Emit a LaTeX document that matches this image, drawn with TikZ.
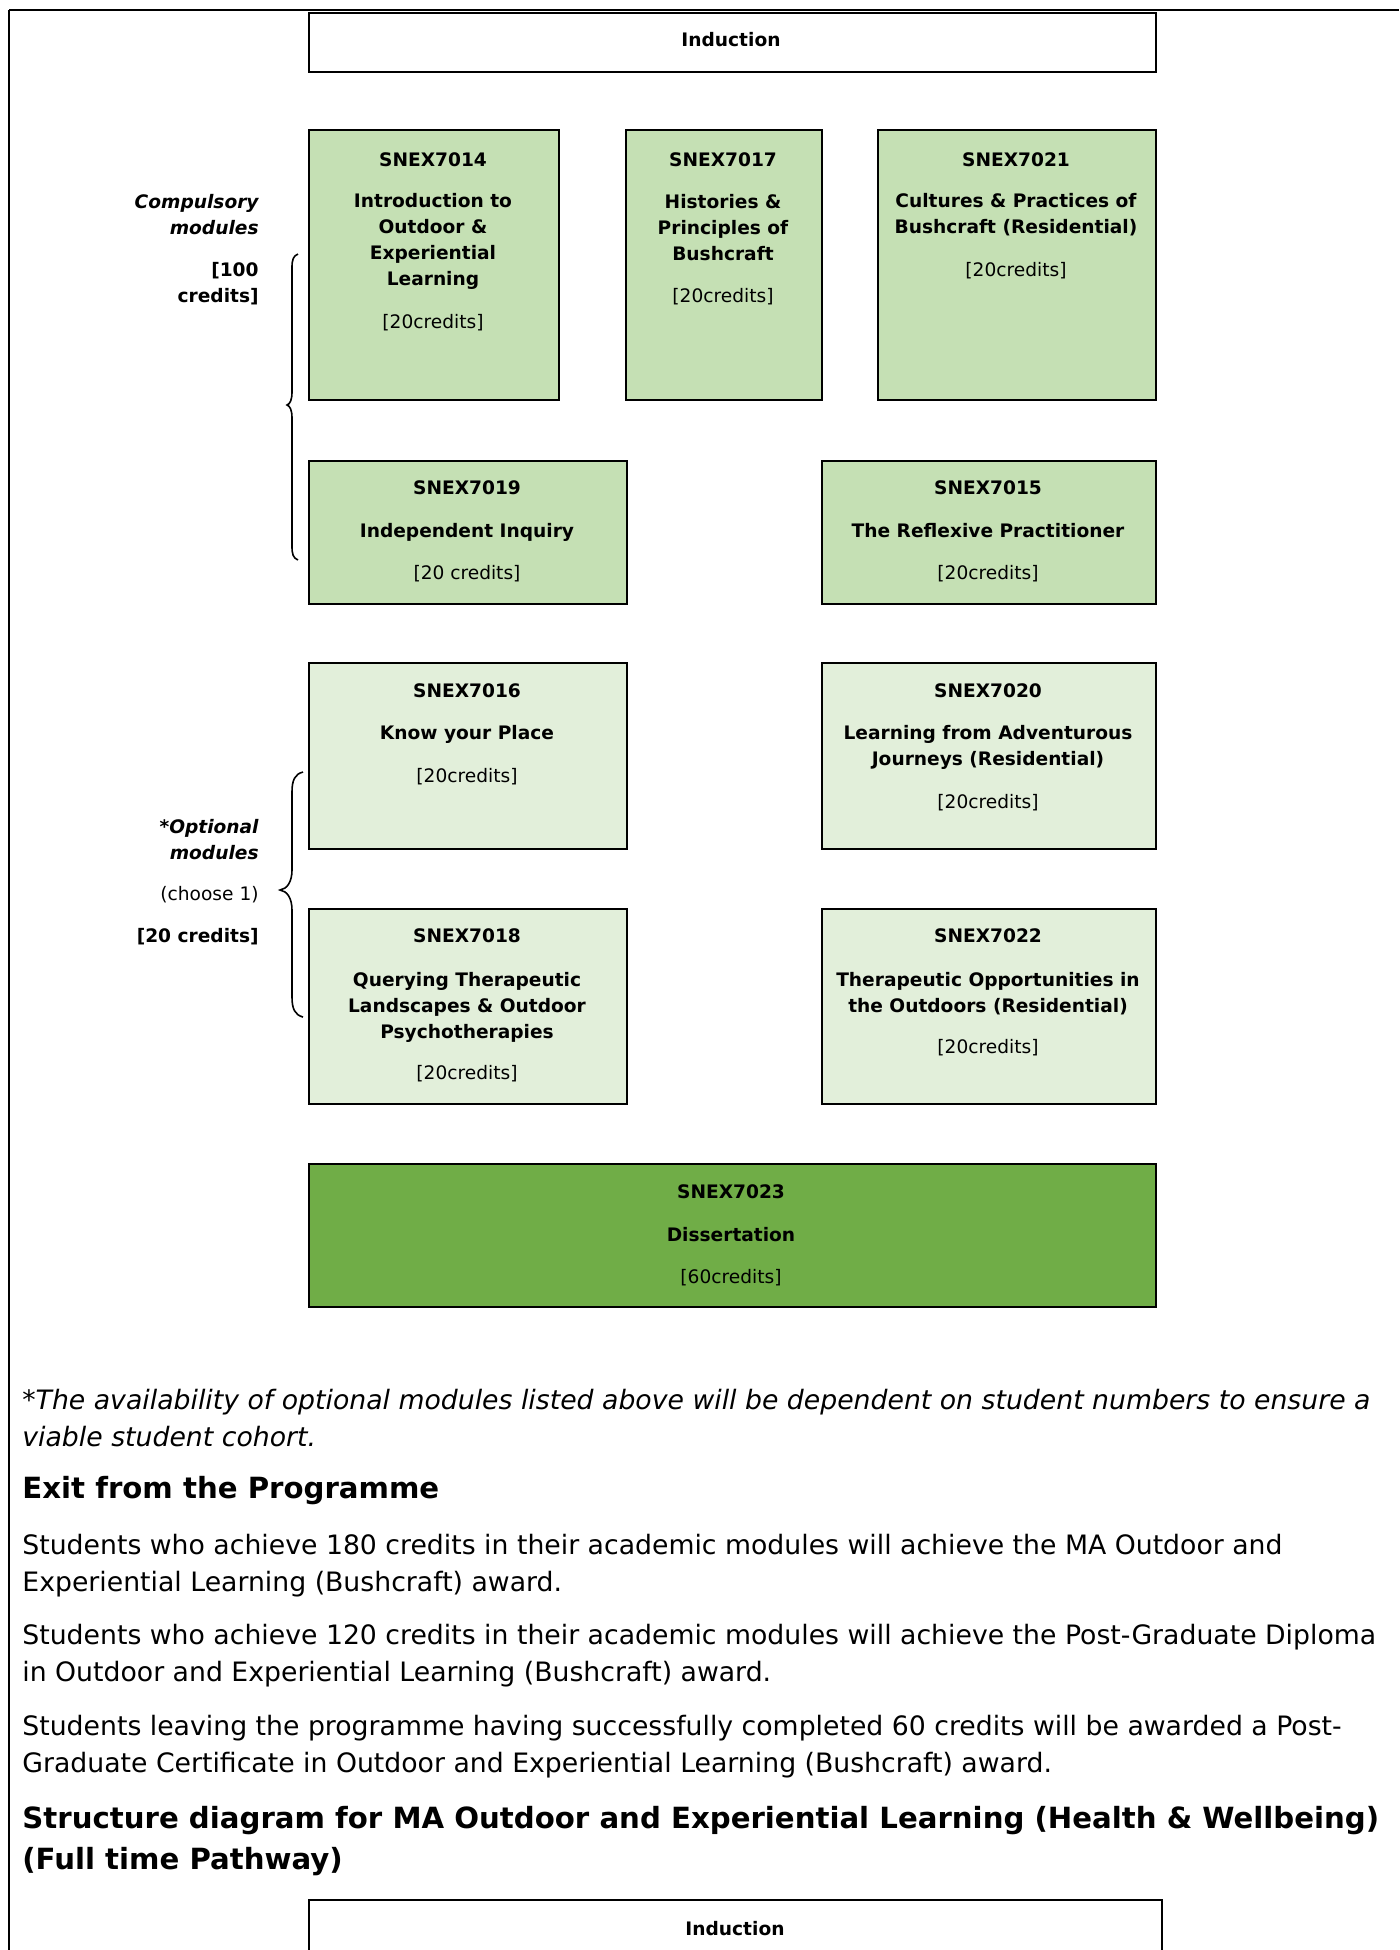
\documentclass[tikz,border=0pt]{standalone}
\usepackage{fontspec}
\setmainfont{DejaVu Sans}
\definecolor{cdark}{HTML}{C5E0B4}
\definecolor{clight}{HTML}{E2EFDA}
\definecolor{cdiss}{HTML}{70AD47}
\newcommand\bxf{\fontsize{9.3pt}{13pt}\selectfont}
\newcommand\bdf{\fontsize{13.35pt}{18.5pt}\selectfont}
\newcommand\hdf{\fontsize{14.6pt}{20.5pt}\selectfont}
\tikzset{
  frame/.style={draw=black, line width=1.2pt, inner sep=0pt, anchor=north west},
  dark/.style={frame, fill=cdark},
  light/.style={frame, fill=clight},
  diss/.style={frame, fill=cdiss},
  plain/.style={frame, fill=white},
  one/.style={inner sep=0pt, text height=0.73em, text depth=0pt},
  code/.style={one, font=\bxf\bfseries},
  cred/.style={one, font=\bxf},
  ttl/.style={inner sep=0pt, font=\bxf\bfseries, align=center},
  lbl/.style={inner sep=0pt, font=\bxf, align=right, anchor=east},
  body/.style={inner sep=0pt, font=\bdf, align=left, anchor=west},
  head/.style={inner sep=0pt, font=\hdf\bfseries, align=left, anchor=west},
  bracel/.style={draw=black, line width=0.8pt},
}
\begin{document}
\begin{tikzpicture}[x=0.5pt, y=-0.5pt]
\useasboundingbox (0,0) rectangle (1399,1950);
\fill[white] (0,0) rectangle (1399,1950);
% page frame
\draw[line width=1pt] (9,10) -- (1399,10);
\draw[line width=0.6pt] (9,10) -- (9,1950);

% Induction
\node[plain, minimum width=423.5pt, minimum height=29.5pt] (ind) at (308,12) {};
\node[code] (indt) at (731,39) {Induction};

% Row 1
\node[dark, minimum width=125pt, minimum height=135pt] (m7014) at (308,129) {};
\node[code] (m7014c) at (433,159) {SNEX7014};
\node[ttl] (m7014t) at (433,241) {Introduction to\\Outdoor \&\\Experiential\\Learning};
\node[cred] (m7014r) at (433,321) {[20credits]};

\node[dark, minimum width=98pt, minimum height=135pt] (m7017) at (625,129) {};
\node[code] (m7017c) at (723,159) {SNEX7017};
\node[ttl] (m7017t) at (723,228) {Histories \&\\Principles of\\Bushcraft};
\node[cred] (m7017r) at (723,295) {[20credits]};

\node[dark, minimum width=139pt, minimum height=135pt] (m7021) at (877,129) {};
\node[code] (m7021c) at (1016,159) {SNEX7021};
\node[ttl] (m7021t) at (1016,215) {Cultures \& Practices of\\Bushcraft (Residential)};
\node[cred] (m7021r) at (1016,269) {[20credits]};

% Row 2
\node[dark, minimum width=159pt, minimum height=71.5pt] (m7019) at (308,460) {};
\node[code] (m7019c) at (467,487) {SNEX7019};
\node[code] (m7019t) at (467,530) {Independent Inquiry};
\node[cred] (m7019r) at (467,572) {[20 credits]};

\node[dark, minimum width=167pt, minimum height=71.5pt] (m7015) at (821,460) {};
\node[code] (m7015c) at (988,487) {SNEX7015};
\node[code] (m7015t) at (988,530) {The Reflexive Practitioner};
\node[cred] (m7015r) at (988,572) {[20credits]};

% Row 3
\node[light, minimum width=159pt, minimum height=93pt] (m7016) at (308,662) {};
\node[code] (m7016c) at (467,690) {SNEX7016};
\node[code] (m7016t) at (467,732) {Know your Place};
\node[cred] (m7016r) at (467,775) {[20credits]};

\node[light, minimum width=167pt, minimum height=93pt] (m7020) at (821,662) {};
\node[code] (m7020c) at (988,690) {SNEX7020};
\node[ttl] (m7020t) at (988,747) {Learning from Adventurous\\Journeys (Residential)};
\node[cred] (m7020r) at (988,801) {[20credits]};

% Row 4
\node[light, minimum width=159pt, minimum height=97.5pt] (m7018) at (308,908) {};
\node[code] (m7018c) at (467,935) {SNEX7018};
\node[ttl] (m7018t) at (467,1007) {Querying Therapeutic\\Landscapes \& Outdoor\\Psychotherapies};
\node[cred] (m7018r) at (467,1072) {[20credits]};

\node[light, minimum width=167pt, minimum height=97.5pt] (m7022) at (821,908) {};
\node[code] (m7022c) at (988,935) {SNEX7022};
\node[ttl] (m7022t) at (988,994) {Therapeutic Opportunities in\\the Outdoors (Residential)};
\node[cred] (m7022r) at (988,1046) {[20credits]};

% Dissertation
\node[diss, minimum width=423.5pt, minimum height=71.5pt] (m7023) at (308,1163) {};
\node[code] (m7023c) at (731,1191) {SNEX7023};
\node[code] (m7023t) at (731,1234) {Dissertation};
\node[cred] (m7023r) at (731,1276) {[60credits]};

% Left labels
\node[lbl, font=\bxf\bfseries\itshape] (lcomp) at (259,215) {Compulsory\\modules};
\node[lbl, font=\bxf\bfseries] (lcred) at (259,284) {[100\\credits]};
\node[lbl, font=\bxf\bfseries\itshape] (lopt) at (259,840) {*Optional\\modules};
\node[lbl, one, anchor=east] (lcho) at (259,893) {(choose 1)};
\node[lbl, one, anchor=east, font=\bxf\bfseries] (lcr2) at (259,935) {[20 credits]};

% Braces
\draw[bracel] (298,254) .. controls (293,256) and (292,260) .. (292,268) -- (292,392)
  .. controls (292,400) and (290,404) .. (287,405)
  .. controls (290,406) and (292,410) .. (292,418) -- (292,546)
  .. controls (292,554) and (293,558) .. (298,560);
\draw[bracel] (303,772) .. controls (295,774) and (292,780) .. (292,792) -- (292,870)
  .. controls (292,882) and (287,889) .. (280,890)
  .. controls (287,891) and (292,898) .. (292,910) -- (292,997)
  .. controls (292,1009) and (295,1015) .. (303,1017);

% Body text
\node[body, font=\bdf\itshape] (foot) at (22,1418) {*The availability of optional modules listed above will be dependent on student numbers to ensure a\\viable student cohort.};
\node[head] (exit) at (22,1491) {Exit from the Programme};
\node[body] (p1) at (22,1566) {Students who achieve 180 credits in their academic modules will achieve the MA Outdoor and\\Experiential Learning (Bushcraft) award.};
\node[body] (p2) at (22,1656) {Students who achieve 120 credits in their academic modules will achieve the Post-Graduate Diploma\\in Outdoor and Experiential Learning (Bushcraft) award.};
\node[body] (p3) at (22,1747) {Students leaving the programme having successfully completed 60 credits will be awarded a Post-\\Graduate Certificate in Outdoor and Experiential Learning (Bushcraft) award.};
\node[head] (h2) at (22,1841) {Structure diagram for MA Outdoor and Experiential Learning (Health \& Wellbeing)\\(Full time Pathway)};

% Bottom induction
\node[plain, minimum width=426.5pt, minimum height=33pt] (ind2) at (308,1899) {};
\node[code] (ind2t) at (735,1928) {Induction};
\end{tikzpicture}
\end{document}
